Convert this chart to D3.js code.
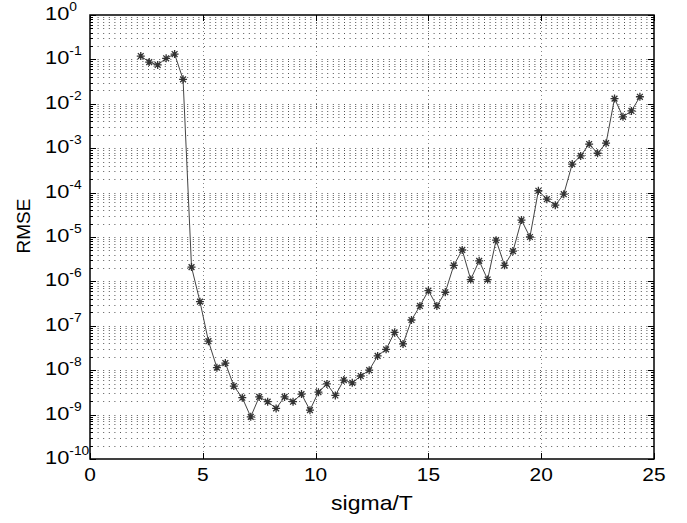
<!DOCTYPE html>
<html>
<head>
<meta charset="utf-8">
<script src="https://cdn.jsdelivr.net/npm/d3@7"></script>
<style>
  body { margin: 0; background: #fff; }
  text { font-family: "Liberation Sans", Arial, Helvetica, sans-serif; fill: #000; }
</style>
</head>
<body>
<div id="chart"></div>
<script>
// sigma/T sample positions
const sigmaT = [
  2.25, 2.625, 3.0, 3.375, 3.75, 4.125, 4.5, 4.875, 5.25, 5.625,
  6.0, 6.375, 6.75, 7.125, 7.5, 7.875, 8.25, 8.625, 9.0, 9.375,
  9.75, 10.125, 10.5, 10.875, 11.25, 11.625, 12.0, 12.375, 12.75, 13.125,
  13.5, 13.875, 14.25, 14.625, 15.0, 15.375, 15.75, 16.125, 16.5, 16.875,
  17.25, 17.625, 18.0, 18.375, 18.75, 19.125, 19.5, 19.875, 20.25, 20.625,
  21.0, 21.375, 21.75, 22.125, 22.5, 22.875, 23.25, 23.625, 24.0, 24.375
];
// RMSE values
const rmse = [
  0.119, 0.087, 0.075, 0.106, 0.132, 0.0356, 2.1e-6, 3.5e-7, 4.5e-8, 1.14e-8,
  1.45e-8, 4.4e-9, 2.4e-9, 8.9e-10, 2.5e-9, 1.95e-9, 1.38e-9, 2.5e-9, 1.95e-9, 2.9e-9,
  1.26e-9, 3.2e-9, 4.9e-9, 2.7e-9, 6.0e-9, 5.2e-9, 7.4e-9, 1.0e-8, 2.1e-8, 2.95e-8,
  7.1e-8, 3.9e-8, 1.35e-7, 2.8e-7, 6.2e-7, 2.8e-7, 5.7e-7, 2.3e-6, 5.1e-6, 1.1e-6,
  2.9e-6, 1.1e-6, 8.5e-6, 2.3e-6, 4.8e-6, 2.4e-5, 1.0e-5, 1.1e-4, 7.1e-5, 5.2e-5,
  9.2e-5, 4.4e-4, 6.7e-4, 1.24e-3, 7.7e-4, 1.3e-3, 0.0131, 5.1e-3, 6.9e-3, 0.0144
];
const xTicks = [0, 5, 10, 15, 20, 25];
const yExponents = [0, -1, -2, -3, -4, -5, -6, -7, -8, -9, -10];

const width = 687, height = 523;
const margin = {top: 15, right: 33, bottom: 64, left: 90};

const svg = d3.select('#chart').append('svg')
  .attr('width', width)
  .attr('height', height);

const x = d3.scaleLinear().domain([0, 25]).range([margin.left, width - margin.right]);
const y = d3.scaleLog().domain([1e-10, 1]).range([height - margin.bottom, margin.top]);

const x0 = x.range()[0], x1 = x.range()[1];
const y0 = y.range()[0], y1 = y.range()[1];

// minor decade values 2..9 x 10^k
var minorY = [];
yExponents.slice(0, -1).forEach(function(e) {
  for (var m = 2; m <= 9; m++) minorY.push(m * Math.pow(10, e - 1));
});
const majorY = yExponents.map(function(e) { return Math.pow(10, e); });

const grid = svg.append('g').attr('class', 'grid')
  .attr('stroke', '#555')
  .attr('stroke-width', 1)
  .attr('stroke-dasharray', '1,4.6');

grid.selectAll('.hgrid')
  .data(minorY.concat(majorY.slice(1, -1)))
  .enter().append('line')
  .attr('x1', x0 + 2).attr('x2', x1)
  .attr('y1', d => Math.round(y(d)) + 0.5)
  .attr('y2', d => Math.round(y(d)) + 0.5);

grid.selectAll('.vgrid')
  .data(xTicks.slice(1, -1))
  .enter().append('line')
  .attr('stroke', '#888')
  .attr('stroke-dasharray', '1,3')
  .attr('x1', d => Math.round(x(d)) + 0.5)
  .attr('x2', d => Math.round(x(d)) + 0.5)
  .attr('y1', y1).attr('y2', y0);

// ticks (inward on all four sides)
const ticks = svg.append('g').attr('stroke', '#000').attr('stroke-width', 1);
xTicks.forEach(function(t) {
  var px = Math.round(x(t)) + 0.5;
  ticks.append('line').attr('x1', px).attr('x2', px).attr('y1', y0).attr('y2', y0 - 6);
  ticks.append('line').attr('x1', px).attr('x2', px).attr('y1', y1).attr('y2', y1 + 6);
});
majorY.forEach(function(v) {
  var py = Math.round(y(v)) + 0.5;
  ticks.append('line').attr('x1', x0).attr('x2', x0 + 6).attr('y1', py).attr('y2', py);
  ticks.append('line').attr('x1', x1).attr('x2', x1 - 6).attr('y1', py).attr('y2', py);
});
minorY.forEach(function(v) {
  var py = Math.round(y(v)) + 0.5;
  ticks.append('line').attr('x1', x0).attr('x2', x0 + 3).attr('y1', py).attr('y2', py);
  ticks.append('line').attr('x1', x1).attr('x2', x1 - 3).attr('y1', py).attr('y2', py);
});

// frame
svg.append('rect')
  .attr('x', x0).attr('y', y1)
  .attr('width', x1 - x0).attr('height', y0 - y1)
  .attr('fill', 'none').attr('stroke', '#000').attr('stroke-width', 1.5);

// tick labels
svg.append('g').selectAll('text')
  .data(xTicks)
  .enter().append('text')
  .attr('transform', d => 'translate(' + x(d) + ',481) scale(1.1,1)')
  .attr('text-anchor', 'middle')
  .attr('font-size', 19)
  .text(d => d);

const yl = svg.append('g').selectAll('text')
  .data(yExponents)
  .enter().append('text')
  .attr('transform', d => 'translate(45,' + (y(Math.pow(10, d)) + 5) + ') scale(1.15,1)')
  .attr('font-size', 19);
yl.append('tspan').text('10');
yl.append('tspan')
  .attr('dy', -9)
  .attr('font-size', 12)
  .text(d => d);

// axis titles
svg.append('text')
  .attr('transform', 'translate(' + (x0 + x1) / 2 + ',510) scale(1.15,1)')
  .attr('text-anchor', 'middle')
  .attr('font-size', 20)
  .text('sigma/T');

svg.append('text')
  .attr('transform', 'translate(30,226) rotate(-90)')
  .attr('text-anchor', 'middle')
  .attr('font-size', 19)
  .text('RMSE');

// series
const pts = sigmaT.map((s, i) => [s, rmse[i]]);
const line = d3.line().x(d => x(d[0])).y(d => y(d[1]));

svg.append('path')
  .datum(pts)
  .attr('d', line)
  .attr('fill', 'none')
  .attr('stroke', '#444')
  .attr('stroke-width', 1);

const star = 'M-4,0L4,0M0,-4L0,4M-2.9,-2.9L2.9,2.9M-2.9,2.9L2.9,-2.9';
svg.append('g').selectAll('path')
  .data(pts)
  .enter().append('path')
  .attr('transform', d => 'translate(' + x(d[0]) + ',' + y(d[1]) + ')')
  .attr('d', star)
  .attr('fill', 'none')
  .attr('stroke', '#333')
  .attr('stroke-width', 1.3);
</script>
</body>
</html>
